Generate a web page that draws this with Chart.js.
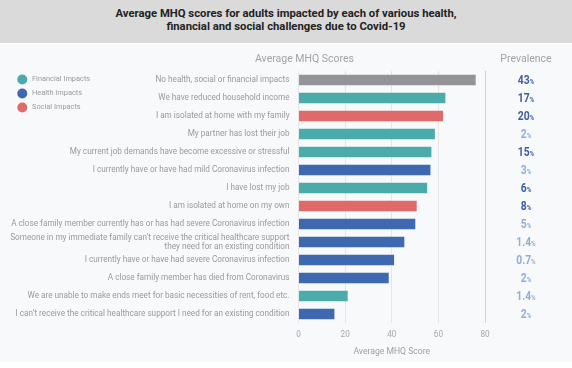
<!DOCTYPE html>
<html><head><meta charset="utf-8">
<script src="https://cdn.jsdelivr.net/npm/chart.js@4/dist/chart.umd.min.js"></script>
<style>
html,body{margin:0;padding:0;background:#fff;}
#wrap{position:relative;width:572px;height:368px;overflow:hidden;font-family:Roboto,"Liberation Sans",sans-serif;}
#title{position:absolute;left:0;top:0;width:572px;height:43px;background:#dadada;color:#222;font-weight:bold;font-size:11.3px;line-height:13.5px;text-align:center;padding-top:6.5px;box-sizing:border-box;}
#cbox{position:absolute;left:0;top:44px;width:572px;height:318px;background:#f7f9fb;}
</style></head><body>
<div id="wrap">
<div id="title">Average MHQ scores for adults impacted by each of various health,<br>financial and social challenges due to Covid-19</div>
<div id="cbox"><canvas id="c" width="572" height="318"></canvas></div>
</div>
<script>
const categories = [
  "No health, social or financial impacts",
  "We have reduced household income",
  "I am isolated at home with my family",
  "My partner has lost their job",
  "My current job demands have become excessive or stressful",
  "I currently have or have had mild Coronavirus infection",
  "I have lost my job",
  "I am isolated at home on my own",
  "A close family member currently has or has had severe Coronavirus infection",
  ["Someone in my immediate family can\u2019t receive the critical healthcare support", "they need for an existing condition"],
  "I currently have or have had severe Coronavirus infection",
  "A close family member has died from Coronavirus",
  "We are unable to make ends meet for basic necessities of rent, food etc.",
  "I can\u2019t receive the critical healthcare support I need for an existing condition"
];
const mhqScores = [76, 63, 62, 58.5, 57, 56.6, 55.2, 50.7, 50.1, 45.4, 41, 38.7, 21.1, 15.4];
const impactGroup = ["None","Financial","Social","Financial","Financial","Health","Financial","Social","Health","Health","Health","Health","Financial","Health"];
const prevalence = ["43","17","20","2","15","3","6","8","5","1.4","0.7","2","1.4","2"];
const prevalenceHigh = [true,true,true,false,true,false,true,true,false,false,false,false,false,false];
const xTicks = [0,20,40,60,80];
const legendLabels = ["Financial Impacts","Health Impacts","Social Impacts"];

const groupColors = {None:"#939398",Financial:"#4aabaa",Health:"#3e69b0",Social:"#e06a6a"};
const legendColors = ["#4aabaa","#3e69b0","#e06a6a"];

const overlay = {
  id:'overlay',
  afterDraw(chart){
    const ctx = chart.ctx;
    const ys = chart.scales.y;
    ctx.save();
    // headers
    ctx.fillStyle = '#a3a3a3';
    ctx.font = '10.5px Roboto, sans-serif';
    ctx.textAlign = 'center'; ctx.textBaseline = 'middle';
    ctx.fillText('Average MHQ Scores', 304.5, 15);
    ctx.fillText('Prevalence', 526, 15);
    // legend
    ctx.font = '7.4px Roboto, sans-serif';
    ctx.textAlign = 'left';
    legendLabels.forEach((l,i)=>{
      const y = 35.5 + i*14;
      ctx.fillStyle = legendColors[i];
      ctx.beginPath(); ctx.arc(22.3, y, 5, 0, Math.PI*2); ctx.fill();
      ctx.fillStyle = '#9a9a9a';
      ctx.fillText(l, 32, y);
    });
    // prevalence (condensed by horizontal scaling)
    const sx = 0.82;
    const bigF = 'bold 12.6px Roboto, sans-serif';
    const smallF = 'bold 7.6px Roboto, sans-serif';
    prevalence.forEach((p,i)=>{
      const y = ys.getPixelForValue(i);
      const col = prevalenceHigh[i] ? '#3d5fa3' : '#8eaedb';
      ctx.font = bigF;
      const w1 = ctx.measureText(p).width*sx;
      ctx.font = smallF;
      const w2 = ctx.measureText('%').width*sx;
      const x0 = 526 - (w1+w2)/2;
      ctx.fillStyle = col;
      ctx.textBaseline = 'alphabetic';
      ctx.textAlign = 'left';
      ctx.save();
      ctx.translate(x0, y+4.4);
      ctx.scale(sx,1);
      ctx.font = bigF;
      ctx.fillText(p, 0, 0);
      ctx.font = smallF;
      ctx.fillText('%', w1/sx, 0);
      ctx.restore();
    });
    ctx.restore();
  }
};

new Chart(document.getElementById('c'), {
  type:'bar',
  data:{
    labels: categories,
    datasets:[{
      data: mhqScores,
      backgroundColor: impactGroup.map(g=>groupColors[g]),
      barPercentage: 0.6,
      categoryPercentage: 0.95
    }]
  },
  options:{
    indexAxis:'y',
    responsive:false,
    animation:false,
    layout:{padding:{top:27,right:87,bottom:0,left:0}},
    plugins:{legend:{display:false},tooltip:{enabled:false}},
    scales:{
      y:{
        grid:{display:false, drawTicks:false},
        border:{display:false},
        ticks:{color:'#9a9a9a',font:{family:'Roboto',size:8.2,lineHeight:1.1},padding:9,autoSkip:false},
        afterFit(s){ s.width = 298.5; }
      },
      x:{
        min:0,max:80,
        afterBuildTicks(s){ s.ticks = xTicks.map(v=>({value:v})); },
        grid:{color:(c)=> c.tick && c.tick.value===80 ? '#d4d4d4' : '#e6e6e6', drawTicks:false, lineWidth:1},
        border:{display:false},
        ticks:{color:'#a8a8a8',font:{family:'Roboto',size:8.2},padding:7},
        title:{display:true,text:'Average MHQ Score',color:'#a0a0a0',font:{family:'Roboto',size:8.6},padding:{top:4,bottom:5}},
        afterFit(s){ s.height = 39; }
      }
    }
  },
  plugins:[overlay]
});
</script>
</body></html>
